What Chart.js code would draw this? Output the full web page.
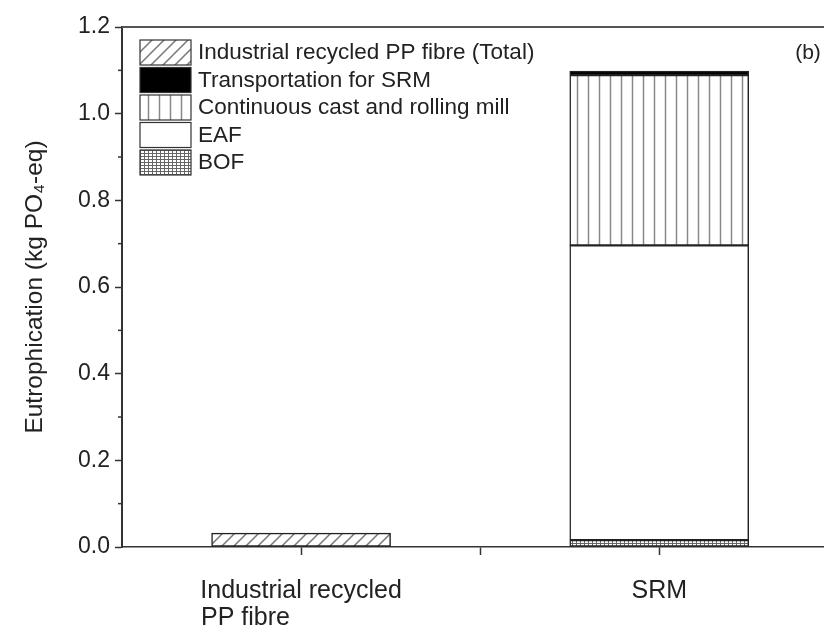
<!DOCTYPE html>
<html>
<head>
<meta charset="utf-8">
<script src="https://cdn.jsdelivr.net/npm/chart.js@4.4.0/dist/chart.umd.min.js"></script>
<style>
  html, body { margin: 0; padding: 0; background: #fff; }
</style>
</head>
<body>
<canvas id="chart" width="824" height="638"></canvas>
<script>
// ---------------- Daten ----------------
const categoryPos   = [0, 1];
const xLabels       = [["Industrial recycled", "PP fibre"], ["SRM"]];
const fibreTotal    = [0.032, null];
const bof           = [null, 0.016];
const eaf           = [null, 0.680];
const castRolling   = [null, 0.393];
const transport     = [null, 0.009];
const xTicks        = [0, 0.5, 1];
const yMinorTicks   = [0.1, 0.3, 0.5, 0.7, 0.9, 1.1];

const FONT = "'Liberation Sans', Arial, sans-serif";
Chart.defaults.font.family = FONT;
Chart.defaults.color = "#222";

function toPoints(values) {
    return values
        .map((v, i) => ({ x: categoryPos[i], y: v }))
        .filter(p => p.y !== null);
}

// mehrzeilige Beschriftung linksbündig (mit Leerzeichen auffüllen)
function padLines(lines, font) {
    const g = document.createElement("canvas").getContext("2d");
    g.font = font;
    const w = Math.max(...lines.map(l => g.measureText(l).width));
    const sp = g.measureText(" ").width;
    return lines.map(l => l + " ".repeat(Math.max(0, Math.round((w - g.measureText(l).width) / sp))));
}

// ---------------- Muster ----------------
function makePattern(kind) {
    const c = document.createElement("canvas");
    const g = c.getContext("2d");
    if (kind === "diag") {
        c.width = c.height = 12;
        g.fillStyle = "#fff"; g.fillRect(0, 0, 12, 12);
        g.strokeStyle = "#777"; g.lineWidth = 1.5;
        g.beginPath();
        g.moveTo(-3, 15); g.lineTo(15, -3);
        g.moveTo(-3, 3);  g.lineTo(3, -3);
        g.moveTo(9, 15);  g.lineTo(15, 9);
        g.stroke();
    } else if (kind === "vert") {
        c.width = 11; c.height = 11;
        g.fillStyle = "#fff"; g.fillRect(0, 0, 11, 11);
        g.strokeStyle = "#888"; g.lineWidth = 1.5;
        g.beginPath(); g.moveTo(5.5, 0); g.lineTo(5.5, 11); g.stroke();
    } else if (kind === "grid") {
        c.width = 4; c.height = 3;
        g.fillStyle = "#fff"; g.fillRect(0, 0, 4, 3);
        g.fillStyle = "#666";
        g.fillRect(0, 0, 1, 3);
        g.fillRect(0, 0, 4, 1);
    }
    return g.createPattern(c, "repeat");
}

const barStyle = { borderColor: "#222", borderWidth: 1.5, borderSkipped: false, barThickness: 179 };

// Reihenfolge: unten -> oben; Legende = umgekehrt
const datasets = [
    { label: "BOF", data: toPoints(bof), backgroundColor: makePattern("grid"), ...barStyle },
    { label: "EAF", data: toPoints(eaf), backgroundColor: "#fff", ...barStyle },
    { label: "Continuous cast and rolling mill", data: toPoints(castRolling), backgroundColor: makePattern("vert"), ...barStyle },
    { label: "Transportation for SRM", data: toPoints(transport), backgroundColor: "#000", ...barStyle },
    { label: "Industrial recycled PP fibre (Total)", data: toPoints(fibreTotal), backgroundColor: makePattern("diag"), ...barStyle }
];

// ---------------- Rahmen, Nebenstriche, Legende ----------------
const extras = {
    id: "extras",
    afterDraw(chart) {
        const { ctx, chartArea, scales } = chart;
        ctx.save();
        // oberer Rahmen
        ctx.strokeStyle = "#555";
        ctx.lineWidth = 2;
        ctx.beginPath();
        ctx.moveTo(chartArea.left, chartArea.top);
        ctx.lineTo(chartArea.right, chartArea.top);
        ctx.stroke();

        // kleine Striche y
        ctx.strokeStyle = "#333";
        ctx.lineWidth = 1.5;
        yMinorTicks.forEach(v => {
            const y = scales.y.getPixelForValue(v);
            ctx.beginPath();
            ctx.moveTo(chartArea.left - 4, y);
            ctx.lineTo(chartArea.left, y);
            ctx.stroke();
        });

        // Legende
        ctx.font = "22.5px " + FONT;
        ctx.textBaseline = "middle";
        ctx.textAlign = "left";
        const items = chart.data.datasets.slice().reverse();
        items.forEach((ds, i) => {
            const top = 40 + i * 27.5;
            ctx.fillStyle = ds.backgroundColor;
            ctx.fillRect(140, top, 51, 25);
            ctx.strokeStyle = "#333";
            ctx.lineWidth = 1.2;
            ctx.strokeRect(140, top, 51, 25);
            ctx.fillStyle = "#222";
            ctx.fillText(ds.label, 198, top + 13);
        });

        // Panel-Kennung
        ctx.font = "21px " + FONT;
        ctx.textAlign = "center";
        ctx.fillText("(b)", 808, 53);
        ctx.restore();
    }
};

new Chart(document.getElementById("chart"), {
    type: "bar",
    data: { datasets },
    options: {
        responsive: false,
        animation: false,
        layout: { padding: { top: 27, right: 0, bottom: 0, left: 0 } },
        plugins: { legend: { display: false }, tooltip: { enabled: false } },
        scales: {
            x: {
                type: "linear",
                min: -0.5,
                max: 1.46,
                offset: false,
                stacked: true,
                afterBuildTicks: s => { s.ticks = xTicks.map(v => ({ value: v })); },
                afterFit: s => { s.height = 91; },
                grid: { offset: false, drawOnChartArea: false, tickLength: 8, tickColor: "#333", tickWidth: 1.5 },
                border: { color: "#333", width: 1.5 },
                ticks: {
                    padding: 23,
                    maxRotation: 0,
                    autoSkip: false,
                    font: { size: 25, lineHeight: 1.08 },
                    callback: v => {
                        const i = categoryPos.indexOf(v);
                        if (i < 0) return "";
                        return xLabels[i].length > 1 ? padLines(xLabels[i], "25px " + FONT) : xLabels[i][0];
                    }
                }
            },
            y: {
                min: 0,
                max: 1.2,
                stacked: true,
                afterFit: s => { s.width = 122; },
                grid: { drawOnChartArea: false, tickLength: 7, tickColor: "#333", tickWidth: 1.5 },
                border: { color: "#333", width: 2 },
                ticks: {
                    stepSize: 0.2,
                    padding: 5,
                    font: { size: 23 },
                    callback: v => v.toFixed(1)
                },
                title: {
                    display: true,
                    text: "Eutrophication (kg PO₄-eq)",
                    font: { size: 24.5 },
                    padding: { top: 21, bottom: 0 }
                }
            }
        }
    },
    plugins: [extras]
});
</script>
</body>
</html>
